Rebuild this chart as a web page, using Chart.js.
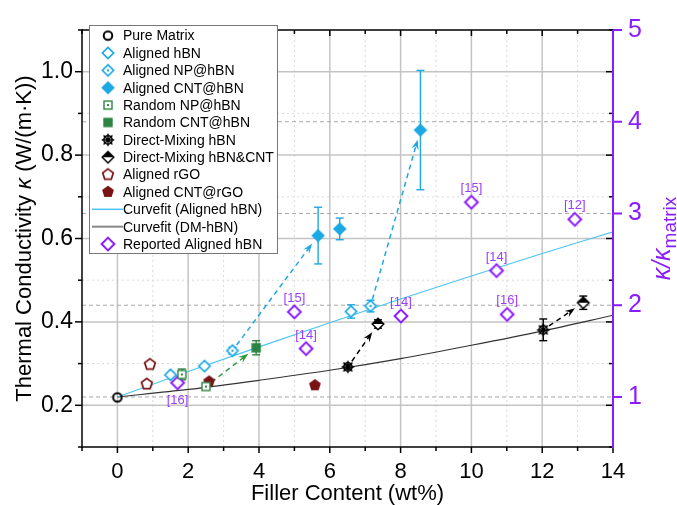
<!DOCTYPE html>
<html><head><meta charset="utf-8">
<script src="https://cdn.jsdelivr.net/npm/chart.js@4.4.1/dist/chart.umd.min.js"></script>
<style>html,body{margin:0;padding:0;background:#fff;}canvas{display:block;}</style>
</head><body>
<canvas id="c" width="677" height="505"></canvas>
<script>
// ---------- data ----------
const K_MATRIX = 0.22;
const pureMatrix = [[0, 0.219]];
const alignedHBN = [[1.5, 0.273], [2.46, 0.294], [6.6, 0.425]];
const alignedHBNErr = [0, 0, 0.016];
const alignedNPHBN = [[3.25, 0.331], [7.15, 0.438]];
const alignedNPHBNErr = [0.008, 0.014];
const alignedCNTHBN = [[5.67, 0.607], [6.28, 0.623], [8.56, 0.860]];
const alignedCNTHBNErr = [0.068, 0.026, 0.143];
const randomNPHBN = [[1.82, 0.274], [2.5, 0.245]];
const randomNPHBNErr = [0.013, 0];
const randomCNTHBN = [[3.92, 0.338]];
const randomCNTHBNErr = [0.017];
const dmHBN = [[6.51, 0.292], [12.03, 0.381]];
const dmHBNErr = [0.005, 0.026];
const dmHBNCNT = [[7.36, 0.395], [13.16, 0.446]];
const dmHBNCNTErr = [0.010, 0.016];
const alignedRGO = [[0.92, 0.298], [0.83, 0.251]];
const alignedCNTRGO = [[2.59, 0.257], [5.58, 0.248]];
const reportedHBN = [[1.70, 0.254], [5.0, 0.424], [5.33, 0.336], [8.01, 0.414], [10.0, 0.687], [10.71, 0.523], [11.01, 0.418], [12.92, 0.646]];
const reportedRefs = ['[16]', '[15]', '[14]', '[14]', '[15]', '[14]', '[16]', '[12]'];
const reportedRefBelow = [true, false, false, false, false, false, false, false];
const fitX = [0, 2, 4, 6, 8, 10, 12, 14];
const fitAligned = [0.220, 0.281, 0.340, 0.398, 0.455, 0.510, 0.564, 0.616];
const fitDM = [0.220, 0.238, 0.260, 0.284, 0.312, 0.344, 0.378, 0.416];
// arrows: from (x,y) to (x,y), colour key
const arrows = [
  [3.25, 0.331, 5.67, 0.607, 'cyan'],
  [7.15, 0.438, 8.56, 0.860, 'cyan'],
  [2.50, 0.245, 3.92, 0.338, 'green'],
  [6.51, 0.292, 7.36, 0.395, 'black'],
  [12.03, 0.381, 13.16, 0.446, 'black']
];
const xMajorTicks = [0, 2, 4, 6, 8, 10, 12, 14];
const xMinorTicks = [-1, 1, 3, 5, 7, 9, 11, 13];
const yMajorTicks = [0.2, 0.4, 0.6, 0.8, 1.0];
const yMinorTicks = [0.1, 0.3, 0.5, 0.7, 0.9, 1.1];
const ratioTicks = [1, 2, 3, 4, 5];
const X_MIN = -1, X_MAX = 14, Y_MIN = 0.1, Y_MAX = 1.1;

// ---------- styles ----------
const C = {
  cyan: '#1CA8E4', cyanLine: '#4EC4F2', green: '#2C8442', red: '#7A1414',
  black: '#000000', purple: '#8A1CFF', purpleText: '#9B3DFF', grey: '#333333'
};
const FONT = '"Liberation Sans", Arial, sans-serif';

function mk(size, draw) {
  const c = document.createElement('canvas');
  c.width = size; c.height = size;
  const g = c.getContext('2d');
  g.translate(size / 2, size / 2);
  draw(g);
  return c;
}
function diamond(g, r) { g.beginPath(); g.moveTo(0, -r); g.lineTo(r, 0); g.lineTo(0, r); g.lineTo(-r, 0); g.closePath(); }
function pentagon(g, r) {
  g.beginPath();
  for (let i = 0; i < 5; i++) {
    const a = -Math.PI / 2 + i * 2 * Math.PI / 5;
    const px = r * Math.cos(a), py = r * Math.sin(a);
    if (i === 0) g.moveTo(px, py); else g.lineTo(px, py);
  }
  g.closePath();
}
const M = {
  circle: mk(14, g => { g.strokeStyle = C.black; g.lineWidth = 2; g.beginPath(); g.arc(0, 0, 4.3, 0, Math.PI * 2); g.stroke(); }),
  diaOpen: mk(16, g => { g.strokeStyle = C.cyan; g.lineWidth = 1.7; diamond(g, 5.6); g.fillStyle = '#fff'; g.fill(); g.stroke(); }),
  diaDot: mk(16, g => { g.strokeStyle = C.cyan; g.lineWidth = 1.7; diamond(g, 5.6); g.fillStyle = '#fff'; g.fill(); g.stroke(); g.fillStyle = C.cyan; g.beginPath(); g.arc(0, 0, 1.2, 0, Math.PI * 2); g.fill(); }),
  diaFill: mk(18, g => { g.fillStyle = C.cyan; diamond(g, 6.8); g.fill(); }),
  sqDot: mk(14, g => { g.strokeStyle = C.green; g.lineWidth = 1.4; g.fillStyle = '#fff'; g.fillRect(-4, -4, 8, 8); g.strokeRect(-4, -4, 8, 8); g.fillStyle = C.green; g.fillRect(-1, -1, 2, 2); }),
  sqFill: mk(14, g => { g.fillStyle = C.green; g.fillRect(-4.7, -4.7, 9.4, 9.4); }),
  star: mk(16, g => {
    g.strokeStyle = C.black; g.lineWidth = 1.4;
    g.beginPath(); g.arc(0, 0, 4.2, 0, Math.PI * 2); g.stroke();
    g.beginPath();
    for (let i = 0; i < 4; i++) { const a = i * Math.PI / 4; g.moveTo(-6.3 * Math.cos(a), -6.3 * Math.sin(a)); g.lineTo(6.3 * Math.cos(a), 6.3 * Math.sin(a)); }
    g.stroke();
  }),
  diaHalf: mk(16, g => {
    g.fillStyle = '#fff'; diamond(g, 5.8); g.fill();
    g.fillStyle = C.black; g.beginPath(); g.moveTo(-5.8, 0); g.lineTo(0, -5.8); g.lineTo(5.8, 0); g.closePath(); g.fill();
    g.strokeStyle = C.black; g.lineWidth = 1.5; diamond(g, 5.8); g.stroke();
  }),
  pentOpen: mk(16, g => { g.strokeStyle = C.red; g.lineWidth = 1.7; pentagon(g, 5.6); g.fillStyle = '#fff'; g.fill(); g.stroke(); }),
  pentFill: mk(16, g => { g.fillStyle = C.red; pentagon(g, 6.2); g.fill(); }),
  diaPurple: mk(18, g => { g.strokeStyle = C.purple; g.lineWidth = 2; diamond(g, 6.4); g.fillStyle = '#fff'; g.fill(); g.stroke(); })
};

function pts(arr) { return arr.map(p => ({ x: p[0], y: p[1] })); }
function sc(label, arr, style, errs, errColor) {
  return { type: 'scatter', label, data: pts(arr), pointStyle: style, pointRadius: 5, errors: errs, errColor, yAxisID: 'y' };
}
const datasets = [
  sc('Pure Matrix', pureMatrix, M.circle),
  sc('Aligned hBN', alignedHBN, M.diaOpen, alignedHBNErr, C.cyan),
  sc('Aligned NP@hBN', alignedNPHBN, M.diaDot, alignedNPHBNErr, C.cyan),
  sc('Aligned CNT@hBN', alignedCNTHBN, M.diaFill, alignedCNTHBNErr, C.cyan),
  sc('Random NP@hBN', randomNPHBN, M.sqDot, randomNPHBNErr, C.green),
  sc('Random CNT@hBN', randomCNTHBN, M.sqFill, randomCNTHBNErr, C.green),
  sc('Direct-Mixing hBN', dmHBN, M.star, dmHBNErr, C.black),
  sc('Direct-Mixing hBN&CNT', dmHBNCNT, M.diaHalf, dmHBNCNTErr, C.black),
  sc('Aligned rGO', alignedRGO, M.pentOpen),
  sc('Aligned CNT@rGO', alignedCNTRGO, M.pentFill),
  { type: 'line', label: 'Curvefit (Aligned hBN)', data: fitX.map((x, i) => ({ x, y: fitAligned[i] })), borderColor: C.cyanLine, borderWidth: 1.2, pointRadius: 0, cubicInterpolationMode: 'monotone', legendLine: true, yAxisID: 'y', order: 5 },
  { type: 'line', label: 'Curvefit (DM-hBN)', data: fitX.map((x, i) => ({ x, y: fitDM[i] })), borderColor: C.grey, borderWidth: 1.2, pointRadius: 0, cubicInterpolationMode: 'monotone', legendLine: true, legendColor: '#888', yAxisID: 'y', order: 5 },
  sc('Reported Aligned hBN', reportedHBN, M.diaPurple)
];

// ---------- drawing helpers ----------
function line(ctx, x1, y1, x2, y2, color, lw, dash) {
  ctx.save(); ctx.strokeStyle = color; ctx.lineWidth = lw; ctx.setLineDash(dash || []);
  ctx.beginPath(); ctx.moveTo(x1, y1); ctx.lineTo(x2, y2); ctx.stroke(); ctx.restore();
}
const arrowColor = { cyan: C.cyan, green: '#2E9A3E', black: C.black };

const deco = {
  id: 'deco',
  beforeDatasetsDraw(chart) {
    const ctx = chart.ctx, a = chart.chartArea, sx = chart.scales.x, sy = chart.scales.y, sy2 = chart.scales.y2;
    // grid
    xMinorTicks.forEach(v => { if (v > X_MIN) { const x = sx.getPixelForValue(v); line(ctx, x, a.top, x, a.bottom, '#dadada', 1, [2, 3]); } });
    yMinorTicks.forEach(v => { if (v > Y_MIN && v < Y_MAX) { const y = sy.getPixelForValue(v); line(ctx, a.left, y, a.right, y, '#dadada', 1, [2, 3]); } });
    xMajorTicks.forEach(v => { const x = sx.getPixelForValue(v); line(ctx, x, a.top, x, a.bottom, '#c4c4c4', 1.5); });
    yMajorTicks.forEach(v => { const y = sy.getPixelForValue(v); line(ctx, a.left, y, a.right, y, '#c4c4c4', 1.5); });
    ratioTicks.forEach(v => { if (v < 5) { const y = sy2.getPixelForValue(v); line(ctx, a.left, y, a.right, y, '#a8a8a8', 1, [4, 3]); } });
    // arrows
    arrows.forEach(([x1, y1, x2, y2, col]) => {
      let p1x = sx.getPixelForValue(x1), p1y = sy.getPixelForValue(y1);
      let p2x = sx.getPixelForValue(x2), p2y = sy.getPixelForValue(y2);
      const dx = p2x - p1x, dy = p2y - p1y, L = Math.hypot(dx, dy), ux = dx / L, uy = dy / L;
      const sX = p1x + ux * 7, sY = p1y + uy * 7, eX = p2x - ux * 10, eY = p2y - uy * 10;
      const color = arrowColor[col];
      line(ctx, sX, sY, eX - ux * 6, eY - uy * 6, color, 1.5, [5, 4]);
      ctx.save(); ctx.fillStyle = color; ctx.beginPath();
      const nx = -uy, ny = ux, hl = 10, hw = 3.6;
      ctx.moveTo(eX, eY);
      ctx.lineTo(eX - ux * hl + nx * hw, eY - uy * hl + ny * hw);
      ctx.lineTo(eX - ux * hl * 0.65, eY - uy * hl * 0.65);
      ctx.lineTo(eX - ux * hl - nx * hw, eY - uy * hl - ny * hw);
      ctx.closePath(); ctx.fill(); ctx.restore();
    });
    // error bars
    chart.data.datasets.forEach(ds => {
      if (!ds.errors) return;
      ds.data.forEach((p, i) => {
        const e = ds.errors[i]; if (!e) return;
        const x = sx.getPixelForValue(p.x), yt = sy.getPixelForValue(p.y + e), yb = sy.getPixelForValue(p.y - e);
        line(ctx, x, yt, x, yb, ds.errColor, 1.4);
        line(ctx, x - 4, yt, x + 4, yt, ds.errColor, 1.4);
        line(ctx, x - 4, yb, x + 4, yb, ds.errColor, 1.4);
      });
    });
  },
  afterDatasetsDraw(chart) {
    const ctx = chart.ctx, a = chart.chartArea, sx = chart.scales.x, sy = chart.scales.y, sy2 = chart.scales.y2;
    // reference labels
    ctx.save(); ctx.fillStyle = C.purpleText; ctx.font = '13px ' + FONT; ctx.textAlign = 'center'; ctx.textBaseline = 'alphabetic';
    reportedHBN.forEach((p, i) => {
      const x = sx.getPixelForValue(p[0]), y = sy.getPixelForValue(p[1]);
      ctx.fillText(reportedRefs[i], x, reportedRefBelow[i] ? y + 21 : y - 10);
    });
    ctx.restore();
    // axes frame
    line(ctx, a.left, a.top, a.right, a.top, C.black, 1.5);
    line(ctx, a.left, a.bottom, a.right, a.bottom, C.black, 1.5);
    line(ctx, a.left, a.top - 0.75, a.left, a.bottom + 0.75, C.black, 1.5);
    // tick marks
    xMajorTicks.concat(xMinorTicks).forEach(v => {
      const x = sx.getPixelForValue(v), major = xMajorTicks.includes(v);
      const L = major ? 6 : 4;
      line(ctx, x, a.bottom, x, a.bottom + L, C.black, 1.5);
      line(ctx, x, a.top, x, a.top + L, C.black, 1.5);
    });
    yMajorTicks.concat(yMinorTicks).forEach(v => {
      const y = sy.getPixelForValue(v), major = yMajorTicks.includes(v);
      const L = major ? 7 : 4;
      line(ctx, a.left - L, y, a.left, y, C.black, 1.5);
      line(ctx, a.right - L, y, a.right, y, C.black, 1.5);
    });
    line(ctx, a.right, a.top, a.right, a.bottom + 1, C.purple, 2);
    ratioTicks.forEach(v => { const y = sy2.getPixelForValue(v); line(ctx, a.right, y, a.right + 9, y, C.purple, 2); });
    // axis titles
    ctx.save();
    ctx.fillStyle = C.black; ctx.textBaseline = 'alphabetic';
    ctx.font = '22px ' + FONT; ctx.textAlign = 'center';
    ctx.fillText('Filler Content (wt%)', (a.left + a.right) / 2, 500);
    ctx.restore();
    // left title with italic kappa
    ctx.save();
    ctx.translate(31, (a.top + a.bottom) / 2); ctx.rotate(-Math.PI / 2);
    const parts = [['Thermal Conductivity ', '22px ' + FONT], ['κ', 'italic 22px ' + FONT], [' (W/(m·K))', '22px ' + FONT]];
    let tw = 0; parts.forEach(p => { ctx.font = p[1]; tw += ctx.measureText(p[0]).width; });
    let cx = -tw / 2; ctx.fillStyle = C.black; ctx.textAlign = 'left';
    parts.forEach(p => { ctx.font = p[1]; ctx.fillText(p[0], cx, 0); cx += ctx.measureText(p[0]).width; });
    ctx.restore();
    // right title kappa/kappa_matrix
    ctx.save();
    ctx.translate(670, (a.top + a.bottom) / 2); ctx.rotate(-Math.PI / 2);
    const rp = [['κ/κ', 'italic 25px ' + FONT, 0], ['matrix', '19px ' + FONT, 6]];
    let rw = 0; rp.forEach(p => { ctx.font = p[1]; rw += ctx.measureText(p[0]).width; });
    let rx = -rw / 2; ctx.fillStyle = C.purple; ctx.textAlign = 'left';
    rp.forEach(p => { ctx.font = p[1]; ctx.fillText(p[0], rx, p[2]); rx += ctx.measureText(p[0]).width; });
    ctx.restore();
    // legend
    const lx = 89, ly = 25, lw = 188, lh = 228;
    ctx.save();
    ctx.fillStyle = '#fff'; ctx.fillRect(lx, ly, lw, lh);
    ctx.strokeStyle = '#777'; ctx.lineWidth = 1; ctx.strokeRect(lx + 0.5, ly + 0.5, lw, lh);
    ctx.font = '14px ' + FONT; ctx.textBaseline = 'middle'; ctx.textAlign = 'left'; ctx.fillStyle = C.black;
    chart.data.datasets.forEach((ds, i) => {
      const y = 35.6 + i * 17.37;
      if (ds.legendLine) {
        line(ctx, 92, y, 123, y, ds.legendColor || ds.borderColor, ds.legendColor ? 2 : 1.5);
      } else {
        const img = ds.pointStyle;
        ctx.drawImage(img, 108 - img.width / 2, y - img.height / 2);
      }
      ctx.fillStyle = C.black;
      ctx.fillText(ds.label, 123, y + 1);
    });
    ctx.restore();
  }
};

new Chart(document.getElementById('c'), {
  data: { datasets },
  options: {
    responsive: false, animation: false, devicePixelRatio: 1,
    layout: { padding: { top: 20, left: 0, right: 0, bottom: 0 } },
    plugins: { legend: { display: false }, tooltip: { enabled: false } },
    scales: {
      x: {
        type: 'linear', position: 'bottom', min: X_MIN, max: X_MAX,
        afterFit(s) { s.height = 58; },
        afterBuildTicks(s) { s.ticks = xMajorTicks.map(v => ({ value: v })); },
        grid: { display: false, drawTicks: false }, border: { display: false },
        ticks: { padding: 12, color: '#000', font: { family: FONT, size: 22 }, callback: v => String(v), maxRotation: 0, autoSkip: false }
      },
      y: {
        type: 'linear', position: 'left', min: Y_MIN, max: Y_MAX,
        afterFit(s) { s.width = 82; },
        afterBuildTicks(s) { s.ticks = yMajorTicks.map(v => ({ value: v })); },
        grid: { display: false, drawTicks: false }, border: { display: false },
        ticks: { padding: 9, color: '#000', font: { family: FONT, size: 23 }, callback: v => Number(v).toFixed(1), autoSkip: false }
      },
      y2: {
        type: 'linear', position: 'right', min: Y_MIN / K_MATRIX, max: Y_MAX / K_MATRIX,
        afterFit(s) { s.width = 64; },
        afterBuildTicks(s) { s.ticks = ratioTicks.map(v => ({ value: v })); },
        grid: { display: false, drawTicks: false }, border: { display: false },
        ticks: { padding: 15, color: C.purple, font: { family: FONT, size: 25 }, callback: v => String(v), autoSkip: false }
      }
    }
  },
  plugins: [deco]
});
</script>
</body></html>
